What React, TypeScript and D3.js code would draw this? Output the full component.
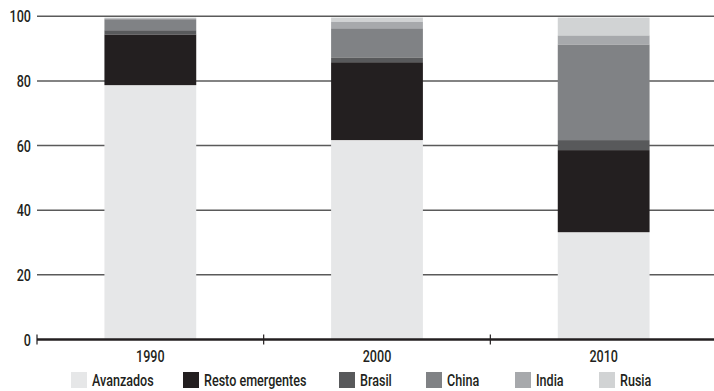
import React from "react";
import * as d3 from "d3";

const categories = ["1990", "2000", "2010"];
const seriesNames = ["Avanzados", "Resto emergentes", "Brasil", "China", "India", "Rusia"];
const avanzados = [78.7, 61.7, 33.2];
const restoEmergentes = [15.7, 24.1, 25.4];
const brasil = [1.3, 1.5, 3.1];
const china = [3.4, 9.0, 29.6];
const india = [0.3, 2.1, 2.8];
const rusia = [0.2, 1.2, 5.5];
const yTicks = [0, 20, 40, 60, 80, 100];
const colors = ["#e6e7e8", "#231f20", "#58595b", "#808285", "#a7a9ac", "#d1d3d4"];

const W = 714;
const H = 391;
const FONT = "Roboto, 'DejaVu Sans Condensed', sans-serif";
const SX = 0.74;

function T({ x, y, anchor, children, size = 17 }: any) {
  return (
    <text
      transform={`translate(${x},${y}) scale(${SX},1)`}
      textAnchor={anchor || "start"}
      fontSize={size}
      fontWeight={500}
      fill="#231f20"
      fontFamily={FONT}
    >
      {children}
    </text>
  );
}

export default function App() {
  const series = [avanzados, restoEmergentes, brasil, china, india, rusia];
  const rows = categories.map((c, i) => {
    const r: any = { cat: c };
    seriesNames.forEach((n, k) => (r[n] = series[k][i]));
    return r;
  });
  const stacked = d3.stack<any>().keys(seriesNames)(rows);

  const x = d3.scaleBand().domain(categories).range([37, 717]).paddingInner(0.595).paddingOuter(0.2975);
  const y = d3.scaleLinear().domain([0, 100]).range([339.5, 16.3]);
  const band = x.step();
  const left = 37;

  const legendX = [71, 183, 339, 426, 515, 599];

  return (
    <svg width={W} height={H} style={{ position: "absolute", left: 0, top: 0 }}>
      {yTicks.filter((t) => t > 0).map((t) => (
        <line key={t} x1={left} x2={W} y1={y(t)} y2={y(t)} stroke="#5a5a5a" strokeWidth={1.5} />
      ))}
      {stacked.map((s, k) => (
        <g key={s.key} fill={colors[k]}>
          {s.map((d, i) => (
            <rect
              key={i}
              x={x(categories[i])!}
              width={x.bandwidth()}
              y={y(d[1])}
              height={y(d[0]) - y(d[1])}
            />
          ))}
        </g>
      ))}
      <line x1={left} x2={W} y1={y(0)} y2={y(0)} stroke="#231f20" strokeWidth={2.5} />
      {[0, 1, 2].map((i) => (
        <line key={i} x1={left + i * band} x2={left + i * band} y1={y(0) - 5} y2={y(0) + 5} stroke="#231f20" strokeWidth={1.2} />
      ))}
      {yTicks.map((t) => (
        <T key={t} x={31} y={y(t) + 6} anchor="end">
          {t}
        </T>
      ))}
      {categories.map((c) => (
        <T key={c} x={x(c)! + x.bandwidth() / 2} y={362} anchor="middle">
          {c}
        </T>
      ))}
      {seriesNames.map((n, k) => (
        <g key={n}>
          <rect x={legendX[k]} y={372} width={16} height={16} fill={colors[k]} />
          <T x={legendX[k] + 21} y={386}>
            {n}
          </T>
        </g>
      ))}
    </svg>
  );
}
